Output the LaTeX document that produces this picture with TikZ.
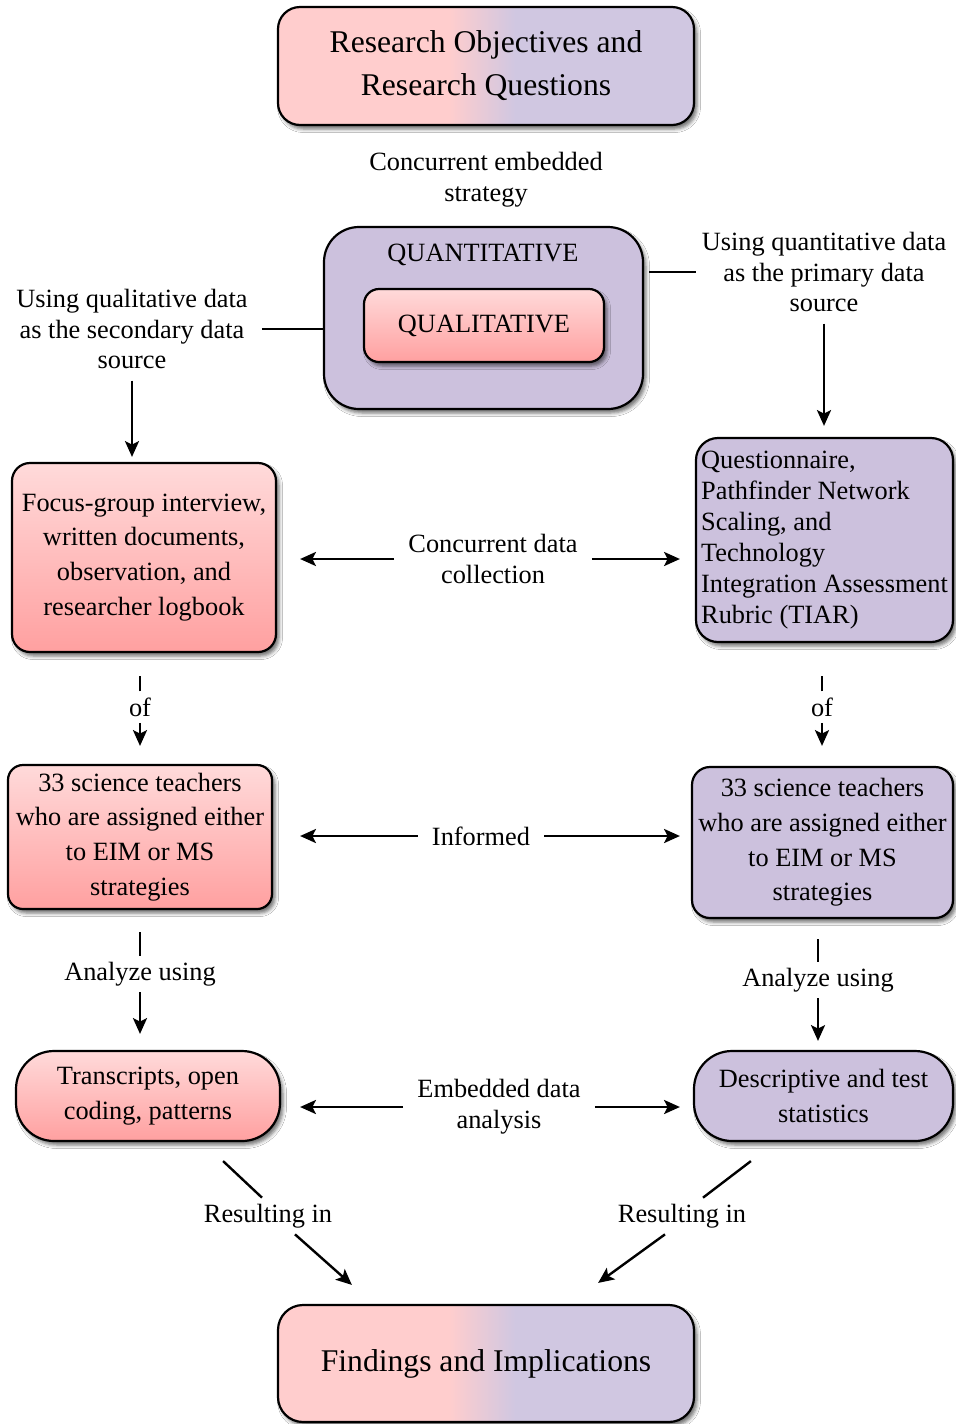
\documentclass[tikz,border=0pt]{standalone}
\usepackage{fontspec}
\setmainfont{Liberation Serif}
\usetikzlibrary{arrows.meta,shadows.blur}

% one unit of the drawing grid
\newdimen\px \px=0.02cm

\definecolor{pinkA}{RGB}{255,205,205}
\definecolor{lavA}{RGB}{208,199,225}
\definecolor{boxPurple}{RGB}{204,193,221}
\definecolor{redTop}{RGB}{255,218,218}
\definecolor{redBot}{RGB}{255,160,160}

% pink on the left, lavender on the right, blended around the middle
\pgfdeclarehorizontalshading{pinklav}{100bp}{color(0bp)=(pinkA); color(45.5bp)=(pinkA); color(53.5bp)=(lavA); color(100bp)=(lavA)}

\tikzset{
  box/.style={draw=black, line width=2.2\px, inner sep=0pt, align=center,
    font=\fontsize{15}{19.8}\selectfont,
    blur shadow={shadow xshift=3\px, shadow yshift=-4\px, shadow blur radius=3.5\px, shadow opacity=55}},
  redbox/.style={box, top color=redTop, bottom color=redBot},
  purplebox/.style={box, fill=boxPurple},
  endbox/.style={box, shading=pinklav, font=\fontsize{18}{24.4}\selectfont},
  lbl/.style={inner xsep=14\px, inner ysep=6\px, align=center, font=\fontsize{15}{17.6}\selectfont},
  wire/.style={line width=2.4\px},
  arr/.style={wire, -{Stealth[length=9pt,width=8pt,inset=2pt]}},
}

\begin{document}
\begin{tikzpicture}[x=0.02cm, y=-0.02cm]
\path[use as bounding box, clip] (0,0) rectangle (956,1424);
\fill[white] (0,0) rectangle (956,1424);

% ---- boxes ----
\node[endbox, rounded corners=22\px, minimum width=416\px, minimum height=118\px] (top) at (486,66)
  {Research Objectives and\\Research Questions};

\node[lbl] (ces) at (486,180) {Concurrent embedded\\strategy};

\node[purplebox, rounded corners=35\px, minimum width=319\px, minimum height=182\px] (quant) at (483.5,318) {};
\node[lbl] (quantT) at (483,255) {QUANTITATIVE};
\node[redbox, rounded corners=15\px, minimum width=240\px, minimum height=73\px] (qual) at (484,325.5) {QUALITATIVE};

\node[lbl, inner sep=5\px] (ql) at (132,329) {Using qualitative data\\as the secondary data\\source};
\node[lbl, inner sep=5\px] (qr) at (824,272) {Using quantitative data\\as the primary data\\source};

\node[redbox, rounded corners=18\px, minimum width=264\px, minimum height=189\px] (fg) at (144,557.5)
  {Focus-group interview,\\written documents,\\observation, and\\researcher logbook};
\node[purplebox, rounded corners=22\px, minimum width=257\px, minimum height=204\px,
      align=left, font=\fontsize{15}{17.6}\selectfont] (qb) at (824.5,540)
  {Questionnaire,\\Pathfinder Network\\Scaling, and\\Technology\\Integration Assessment\\Rubric (TIAR)};

\node[redbox, rounded corners=15\px, minimum width=264\px, minimum height=144\px] (L33) at (140,837)
  {33 science teachers\\who are assigned either\\to EIM or MS\\strategies};
\node[purplebox, rounded corners=18\px, minimum width=261\px, minimum height=151\px] (R33) at (822.5,842.5)
  {33 science teachers\\who are assigned either\\to EIM or MS\\strategies};

\node[redbox, rounded corners=38\px, minimum width=264\px, minimum height=90\px] (tr) at (148,1096)
  {Transcripts, open\\coding, patterns};
\node[purplebox, rounded corners=38\px, minimum width=259\px, minimum height=90\px] (desc) at (823.5,1096)
  {Descriptive and test\\statistics};

\node[endbox, rounded corners=25\px, minimum width=416\px, minimum height=117\px] (fi) at (486,1363.5)
  {Findings and Implications};

% ---- connector labels ----
\node[lbl] (cdc) at (493,559) {Concurrent data\\collection};
\node[lbl] (ofL) at (140,707) {of};
\node[lbl] (ofR) at (822,707) {of};
\node[lbl] (inf) at (481,836) {Informed};
\node[lbl] (anL) at (140,974) {Analyze using};
\node[lbl] (anR) at (818,980) {Analyze using};
\node[lbl] (eda) at (499,1107) {Embedded data\\analysis};
\node[lbl] (resL) at (268,1216) {Resulting in};
\node[lbl] (resR) at (682,1216) {Resulting in};

% ---- connectors ----
\draw[wire, shorten <=9\px] (ql.east) -- (ql.east -| quant.west);
\draw[wire, shorten <=5\px] (qr.west -| quant.east) -- (qr.west);
\draw[arr, shorten <=6\px, shorten >=5\px] (ql.south) -- (ql.south |- fg.north);
\draw[arr, shorten <=6\px, shorten >=11\px] (qr.south) -- (qr.south |- qb.north);

\draw[arr, shorten >=23\px] (cdc.west) -- (cdc.west -| fg.east);
\draw[arr, shorten >=15\px] (cdc.east) -- (cdc.east -| qb.west);

\draw[wire, shorten >=23\px] (ofL.north) -- (ofL.north |- fg.south);
\draw[arr, shorten >=18\px] (ofL.south) -- (ofL.south |- L33.north);
\draw[wire, shorten >=33\px] (ofR.north) -- (ofR.north |- qb.south);
\draw[arr, shorten >=20\px] (ofR.south) -- (ofR.south |- R33.north);

\draw[arr, shorten >=27\px] (inf.west) -- (inf.west -| L33.east);
\draw[arr, shorten >=11\px] (inf.east) -- (inf.east -| R33.west);

\draw[wire, shorten >=22\px] (anL.north) -- (anL.north |- L33.south);
\draw[arr, shorten >=16\px] (anL.south) -- (anL.south |- tr.north);
\draw[wire, shorten >=20\px] (anR.north) -- (anR.north |- R33.south);
\draw[arr, shorten >=9\px] (anR.south) -- (anR.south |- desc.north);

\draw[arr, shorten >=19\px] (eda.west) -- (eda.west -| tr.east);
\draw[arr, shorten >=13\px] (eda.east) -- (eda.east -| desc.west);

\draw[wire] ([shift={(-58,19)}]tr.south east) -- ([shift={(-6,0)}]resL.north);
\draw[arr] ([shift={(27,0)}]resL.south) -- ([shift={(75,-19)}]fi.north west);
\draw[wire] ([shift={(58,19)}]desc.south west) -- ([shift={(21,0)}]resR.north);
\draw[arr] ([shift={(-17,0)}]resR.south) -- ([shift={(-97,-21)}]fi.north east);
\end{tikzpicture}
\end{document}
